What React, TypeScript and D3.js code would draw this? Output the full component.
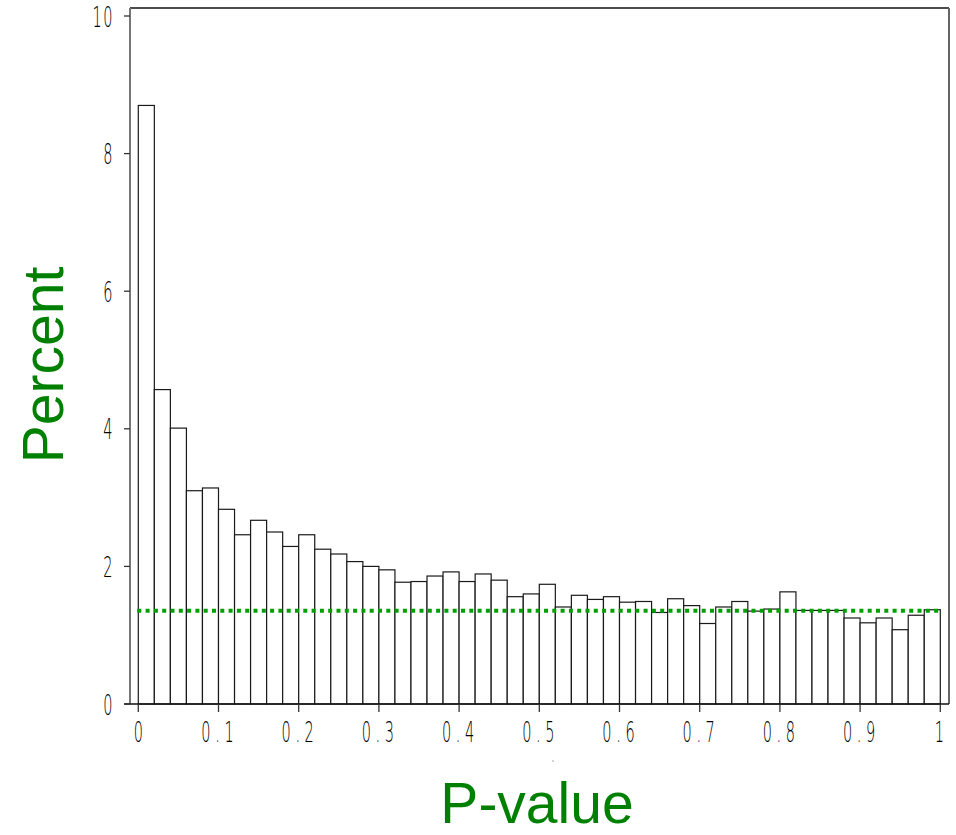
import React from "react";
import * as d3 from "d3";

const binStarts: number[] = Array.from({ length: 50 }, (_, i) => +(i * 0.02).toFixed(2));
const percents: number[] = [
  8.70, 4.57, 4.01, 3.10, 3.14, 2.83, 2.46, 2.67, 2.50, 2.29,
  2.46, 2.25, 2.18, 2.07, 2.00, 1.95, 1.77, 1.78, 1.86, 1.92,
  1.78, 1.89, 1.80, 1.56, 1.60, 1.74, 1.41, 1.58, 1.52, 1.56,
  1.48, 1.49, 1.33, 1.53, 1.43, 1.17, 1.41, 1.49, 1.35, 1.38,
  1.63, 1.36, 1.36, 1.36, 1.25, 1.18, 1.25, 1.08, 1.29, 1.37,
];
const binWidth = 0.02;
const referenceLevel = 1.356;
const xTicks: number[] = [0, 0.1, 0.2, 0.3, 0.4, 0.5, 0.6, 0.7, 0.8, 0.9, 1];
const xTickLabels: string[] = ["0", "0 . 1", "0 . 2", "0 . 3", "0 . 4", "0 . 5", "0 . 6", "0 . 7", "0 . 8", "0 . 9", "1"];
const yTicks: number[] = [0, 2, 4, 6, 8, 10];
const xTitle = "P-value";
const yTitle = "Percent";

export default function App() {
  const W = 956, H = 835;
  const left = 130, right = 949, top = 8, bottom = 704;
  const x = d3.scaleLinear().domain([0, 1]).range([138.3, 940.3]);
  const y = d3.scaleLinear().domain([0, 10]).range([bottom, 16]);
  const green = "#008000";
  const tickFont = "'DejaVu Sans', sans-serif";
  const sx = 0.5;
  const fs = 29;

  return (
    <svg width={W} height={H} style={{ position: "absolute", left: 0, top: 0, background: "#fff" }}>
      <rect x={0} y={0} width={W} height={H} fill="#fff" />
      {percents.map((p, i) => (
        <rect
          key={i}
          x={x(binStarts[i])}
          y={y(p)}
          width={x(binStarts[i] + binWidth) - x(binStarts[i])}
          height={y(0) - y(p)}
          fill="#fff"
          stroke="#1a1a1a"
          strokeWidth={1.2}
        />
      ))}
      <line
        x1={x(0) - 1}
        x2={x(1)}
        y1={y(referenceLevel)}
        y2={y(referenceLevel)}
        stroke="#00a000"
        strokeWidth={4}
        strokeDasharray="4 4.3"
      />
      <line x1={left} x2={right} y1={top} y2={top} stroke="#111" strokeWidth={1.5} />
      <line x1={right} x2={right} y1={top} y2={bottom} stroke="#666" strokeWidth={2} />
      <line x1={left} x2={left} y1={top} y2={bottom} stroke="#777" strokeWidth={2} />
      <line x1={124} x2={right} y1={bottom} y2={bottom} stroke="#111" strokeWidth={1.5} />
      {yTicks.map((t) => (
        <g key={"y" + t}>
          <line x1={124} x2={left} y1={y(t)} y2={y(t)} stroke="#333" strokeWidth={1.3} />
          <text
            transform={`translate(114, ${y(t) + 10.5}) scale(${sx},1)`}
            textAnchor="end"
            fontFamily={tickFont}
            fontWeight={200}
            fontSize={fs}
            letterSpacing={3}
            fill="#000"
          >
            {String(t)}
          </text>
        </g>
      ))}
      {xTicks.map((t, i) => (
        <g key={"x" + t}>
          <line x1={x(t)} x2={x(t)} y1={bottom} y2={bottom + 8} stroke="#333" strokeWidth={1.3} />
          <text
            transform={`translate(${x(t) + (i === 0 ? 0 : -1)}, 742) scale(${sx},1)`}
            textAnchor="middle"
            fontFamily={tickFont}
            fontWeight={200}
            fontSize={fs}
            fill="#000"
            style={{ whiteSpace: "pre" }}
          >
            {xTickLabels[i]}
          </text>
        </g>
      ))}
      <circle cx={553} cy={761} r={0.8} fill="#999" />
      <text
        x={537}
        y={823}
        textAnchor="middle"
        fontFamily="'Liberation Sans', Arial, sans-serif"
        fontSize={57}
        fill={green}
      >
        {xTitle}
      </text>
      <text
        transform="translate(63, 365) rotate(-90)"
        textAnchor="middle"
        fontFamily="'Liberation Sans', Arial, sans-serif"
        fontSize={57}
        fill={green}
      >
        {yTitle}
      </text>
    </svg>
  );
}
